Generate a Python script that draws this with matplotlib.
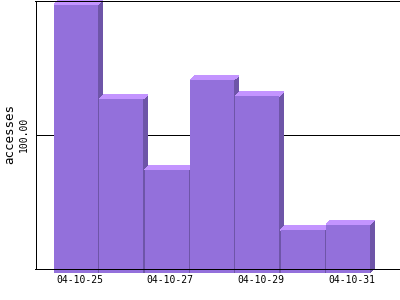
import matplotlib
matplotlib.use("Agg")
import matplotlib.pyplot as plt
from matplotlib.patches import Polygon, Rectangle
from matplotlib.transforms import ScaledTranslation

# data
days = ['04-10-25', '04-10-26', '04-10-27', '04-10-28', '04-10-29', '04-10-30', '04-10-31']
accesses = [200, 130, 77, 144, 132, 32, 36]
shown_labels = ['04-10-25', '04-10-27', '04-10-29', '04-10-31']

front_col = '#9370DB'
top_col = '#C394FF'
side_col = '#6E55A8'

fig = plt.figure(figsize=(4, 3), dpi=100)
ax = fig.add_axes([35.5 / 400, 31.5 / 300, 1 - 35.5 / 400, 1 - 32 / 300])

xmin, xmax = -0.408, 7.63
ymin, ymax = 0, 200
ax.set_xlim(xmin, xmax)
ax.set_ylim(ymin, ymax)

# depth of the fake 3d bars, in pixels -> data units
bbox = ax.get_window_extent()
px_x = bbox.width / (xmax - xmin)
px_y = bbox.height / (ymax - ymin)
dx = 4.5 / px_x
dy = 4.4 / px_y
w = 0.97

for i, v in enumerate(accesses):
    x0 = i
    # side face
    side = Polygon([(x0 + w, -dy), (x0 + w + dx, 0), (x0 + w + dx, v), (x0 + w, v - dy)],
                   closed=True, facecolor=side_col, edgecolor='none', zorder=2,
                   clip_on=False, antialiased=False)
    # top face
    top = Polygon([(x0, v - dy), (x0 + dx, v), (x0 + w + dx, v), (x0 + w, v - dy)],
                  closed=True, facecolor=top_col, edgecolor='none', zorder=2,
                  clip_on=False, antialiased=False)
    front = Rectangle((x0, -dy), w, v, facecolor=front_col, edgecolor='none', zorder=2,
                      clip_on=False, antialiased=False)
    ax.add_patch(side)
    ax.add_patch(top)
    ax.add_patch(front)

# gridline at 100 behind bars
ax.axhline(100, color='black', lw=0.72, zorder=1)

ax.set_yticks([100])
ax.set_yticklabels(['100.00'], rotation=90, va='center', family='DejaVu Sans Mono', fontsize=7)
ax.set_xticks([days.index(d) + 0.5 for d in shown_labels])
ax.set_xticklabels(shown_labels, family='DejaVu Sans Mono', fontsize=7)
ax.tick_params(axis='both', length=0)
ax.tick_params(axis='x', pad=5)
ax.tick_params(axis='y', pad=4.5)
for lab in ax.get_xticklabels():
    lab.set_transform(lab.get_transform() + ScaledTranslation(3 / 100, 0, fig.dpi_scale_trans))

for s in ['left', 'top', 'bottom']:
    ax.spines[s].set_linewidth(0.72)
    ax.spines[s].set_zorder(5)
ax.spines['right'].set_visible(False)

fig.text(10 / 400, 1 - 134 / 300, 'accesses', rotation=90, ha='center', va='center',
         family='DejaVu Sans Mono', fontsize=9)

fig.savefig('out.png', dpi=100)
